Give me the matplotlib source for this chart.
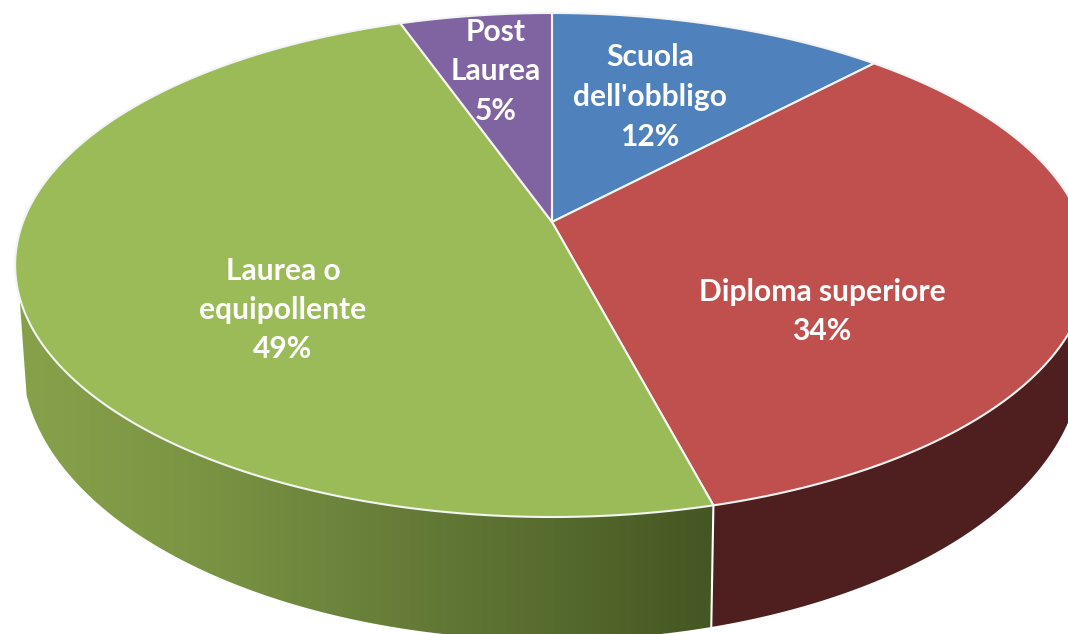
import numpy as np
import matplotlib
matplotlib.use('Agg')
import matplotlib.pyplot as plt
from matplotlib.colors import LinearSegmentedColormap
from matplotlib.patches import Polygon

# Pie data, clockwise from the top
categories = ['Scuola\ndell\'obbligo', 'Diploma superiore', 'Laurea o\nequipollente', 'Post\nLaurea']
values = [12.0, 33.9, 48.7, 5.4]
percent_labels = ['12%', '34%', '49%', '5%']
colors = ['#4F81BD', '#C0504D', '#9BBB59', '#8064A2']
label_pos = [(650, 97), (822, 311.5), (283, 310), (496, 71.5)]

CX = 552.0
CY_APEX = 222.0
PERSP = 0.1706
# where the wall leaves the outline of the disc, left and right
THETA_LEFT = 253.0
THETA_RIGHT = 107.0


def project(theta, cy, rx, ry):
    # perspective view of a disc, theta in degrees clockwise from the top
    u = np.sin(np.radians(theta))
    v = np.cos(np.radians(theta))
    d = 1 + PERSP * v
    return CX + rx * u / d, cy - (ry * v + PERSP * ry) / d


def top(theta):
    return project(theta, 265.0, 529.0, 252.0)


def bottom(theta):
    return project(theta, 359.0, 522.0, 281.0)


def wall(theta1, theta2):
    a = np.linspace(theta1, theta2, 300)
    xt, yt = top(a)
    xb, yb = bottom(a)
    return np.column_stack([np.r_[xt, xb[::-1]], np.r_[yt, yb[::-1]]])


fig = plt.figure(figsize=(10.68, 6.34), dpi=100)
ax = fig.add_axes([0, 0, 1, 1])
ax.axis('off')

edges = np.concatenate([[0], np.cumsum(values)]) * 3.6

# Side walls first, the top face covers what should be hidden
ax.add_patch(Polygon(wall(THETA_RIGHT, edges[2]), closed=True, facecolor='#4F1F1F', edgecolor='none', zorder=1))

green_map = LinearSegmentedColormap.from_list('green', [
    (0.0, '#87A14B'), (0.26, '#7A9443'), (0.55, '#667C38'), (0.77, '#566B2E'), (1.0, '#445622')])
green_xy = wall(edges[2], THETA_LEFT)
green_poly = Polygon(green_xy, closed=True, facecolor='none', edgecolor='none', transform=ax.transData)
ax.add_patch(green_poly)
im = ax.imshow(np.linspace(0, 1, 256).reshape(1, -1), cmap=green_map, aspect='auto',
               extent=(green_xy[:, 0].min(), top(edges[2])[0], 640, 0), zorder=1)
im.set_clip_path(green_poly)

ax.set_xlim(0, 1068)
ax.set_ylim(634, 0)

# Seam between the two visible walls
xt, yt = top(edges[2])
xb, yb = bottom(edges[2])
ax.plot([xt, xb], [yt, yb], color='white', lw=1.5, zorder=2)

# Top face
for i in range(len(values)):
    a = np.linspace(edges[i], edges[i + 1], 300)
    x, y = top(a)
    ax.fill(np.r_[CX, x], np.r_[CY_APEX, y], facecolor=colors[i], edgecolor='#F4F4F4',
            lw=1.5, joinstyle='round', zorder=3)

# Labels
for name, pct, (lx, ly) in zip(categories, percent_labels, label_pos):
    ax.text(lx, ly, name + '\n' + pct, color='white', ha='center', va='center',
            fontsize=21.6, fontweight='bold', family='Lato', linespacing=1.5, zorder=4)

fig.savefig('out.png', dpi=100)
